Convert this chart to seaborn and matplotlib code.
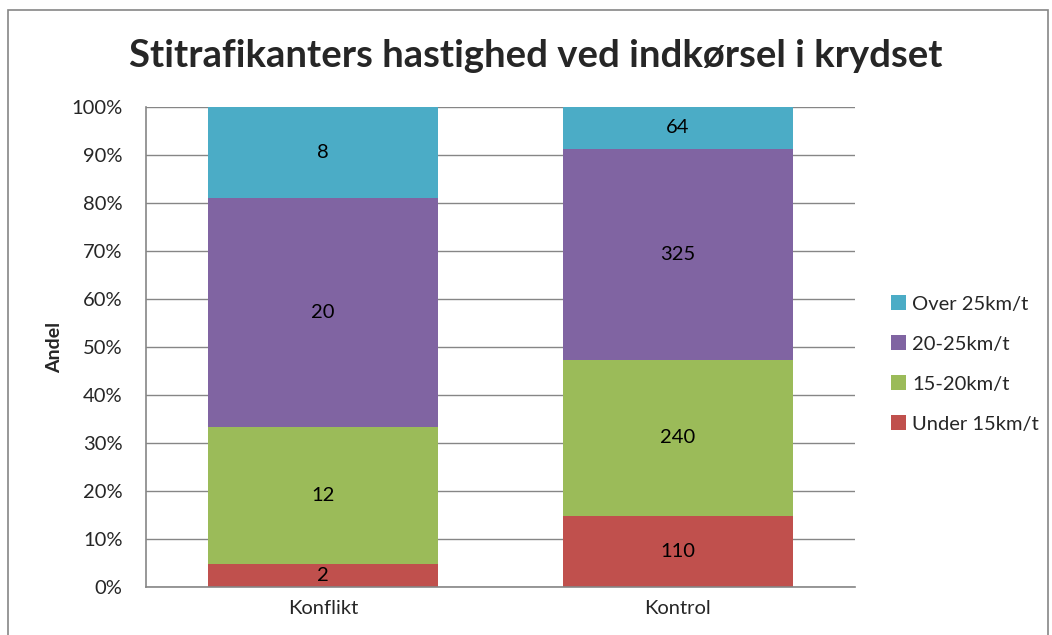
import matplotlib
matplotlib.use("Agg")
import matplotlib.pyplot as plt
import seaborn as sns
import pandas as pd
import numpy as np
from matplotlib.patches import Rectangle, Patch

categories = ["Konflikt", "Kontrol"]
series_names = ["Under 15km/t", "15-20km/t", "20-25km/t", "Over 25km/t"]
under15 = [2, 110]
s15_20 = [12, 240]
s20_25 = [20, 325]
over25 = [8, 64]
colors = ["#C0504D", "#9BBB59", "#8064A2", "#4BACC6"]

sns.set_theme(style="white")
plt.rcParams["font.family"] = ["Lato", "DejaVu Sans"]

counts = pd.DataFrame({n: v for n, v in zip(series_names, [under15, s15_20, s20_25, over25])},
                      index=categories)
totals = counts.sum(axis=1)
frac = counts.div(totals, axis=0)

fig = plt.figure(figsize=(10.52, 6.35), dpi=100)
fig.patches.append(Rectangle((8 / 1052, -0.05), 1040 / 1052, 1 - 10 / 635 + 0.05,
                             transform=fig.transFigure, fill=False,
                             edgecolor="#868686", linewidth=1.2))
ax = fig.add_axes([146 / 1052, 1 - 587 / 635, (855 - 146) / 1052, (587 - 107) / 635])

bottom = np.zeros(len(categories))
for name, col in zip(series_names, colors):
    df = pd.DataFrame({"cat": categories, "val": frac[name].values})
    sns.barplot(data=df, x="cat", y="val", color=col, width=0.65, ax=ax,
                bottom=bottom, saturation=1, linewidth=0, order=categories)
    for i, c in enumerate(categories):
        ax.text(i, bottom[i] + frac[name].values[i] / 2, str(counts.loc[c, name]),
                ha="center", va="center", fontsize=14.5, color="black")
    bottom = bottom + frac[name].values

ax.set_ylim(0, 1)
ax.set_xlim(-0.5, 1.5)
ax.set_yticks(np.arange(0, 1.01, 0.1))
ax.set_yticklabels([f"{int(round(t * 100))}%" for t in np.arange(0, 1.01, 0.1)], fontsize=14.5)
ax.tick_params(axis="x", labelsize=14.5, length=0, pad=9)
ax.tick_params(axis="y", length=0, pad=17)
ax.yaxis.grid(True, color="#868686", linewidth=1)
ax.set_axisbelow(True)
for s in ["top", "right"]:
    ax.spines[s].set_visible(False)
for s in ["left", "bottom"]:
    ax.spines[s].set_color("#868686")
    ax.spines[s].set_linewidth(1.2)
ax.set_xlabel("")
ax.set_ylabel("Andel", fontsize=14, fontweight="bold", labelpad=6)

fig.text(536 / 1052, 1 - 56 / 635, "Stitrafikanters hastighed ved indkørsel i krydset",
         ha="center", va="center", fontsize=27.5, fontweight="bold")

handles = [Patch(facecolor=c, edgecolor="none") for c in colors][::-1]
labels = series_names[::-1]
fig.legend(handles, labels, loc="center left", bbox_to_anchor=(873 / 1052, 1 - 364 / 635),
           frameon=False, fontsize=14.5, handlelength=0.75, handleheight=0.75,
           handletextpad=0.3, labelspacing=1.12)

fig.savefig("out.png", dpi=100)
